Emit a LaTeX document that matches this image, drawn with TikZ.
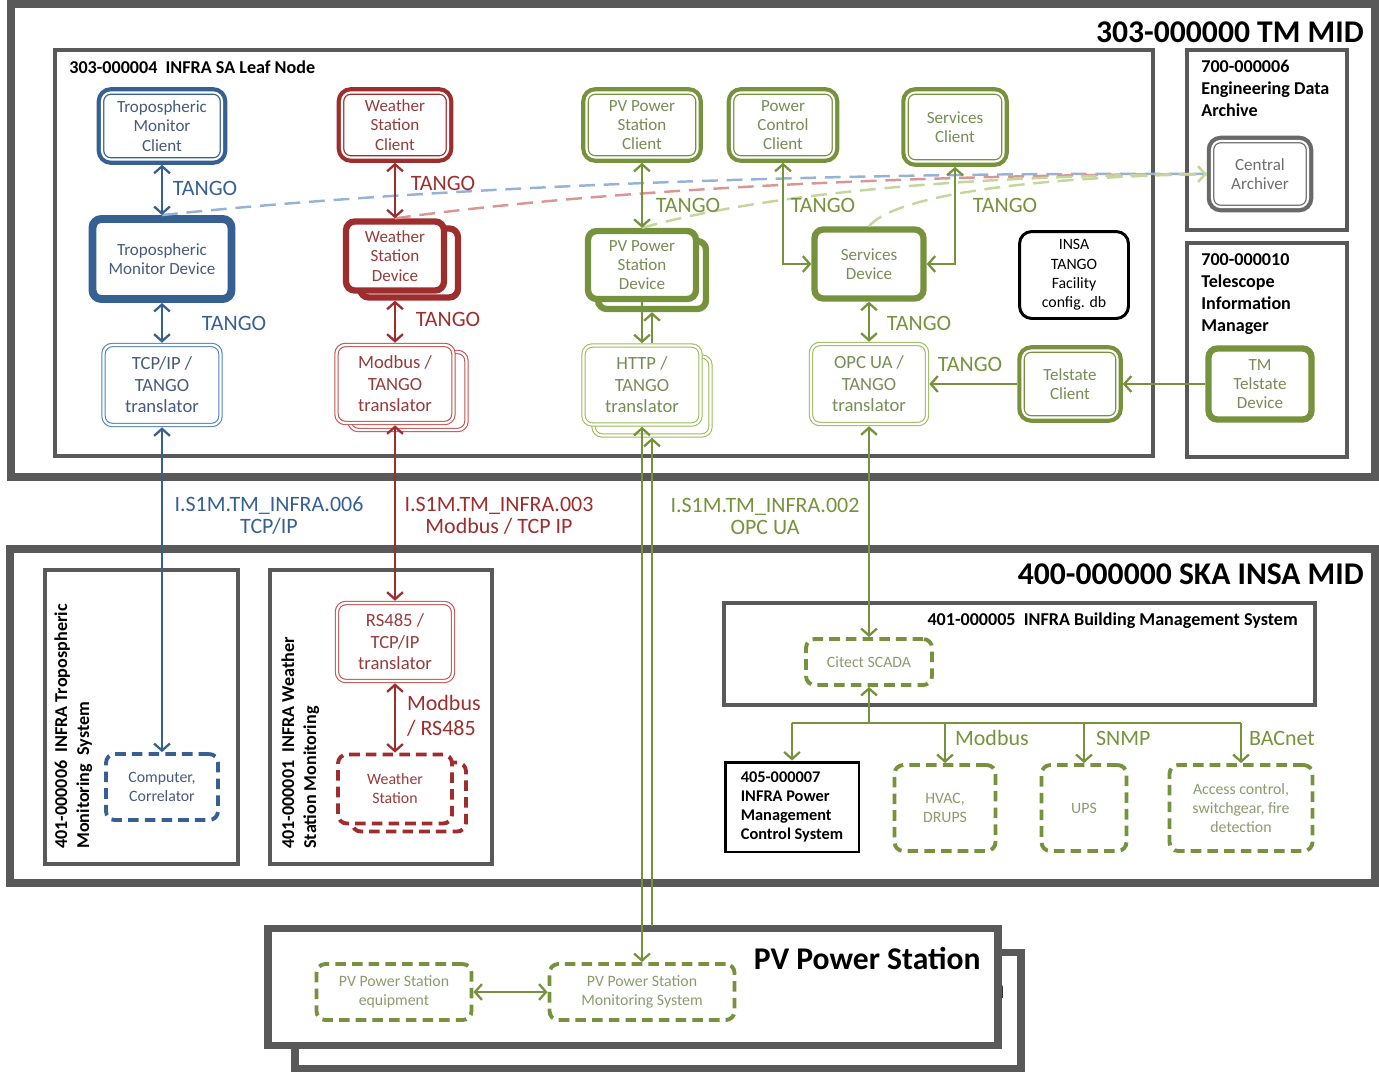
\documentclass[tikz,border=0pt]{standalone}
\usepackage{fontspec}
\setmainfont{Carlito}
\usetikzlibrary{arrows.meta,calc}

\definecolor{framegray}{RGB}{89,89,89}
\definecolor{archgray}{RGB}{105,105,105}
\definecolor{archtxt}{RGB}{110,110,110}
\definecolor{tblue}{RGB}{54,96,146}
\definecolor{tbluemid}{RGB}{79,129,189}
\definecolor{tbluelt}{RGB}{149,179,215}
\definecolor{tbluetxt}{RGB}{70,90,125}
\definecolor{wred}{RGB}{158,45,45}
\definecolor{wredmid}{RGB}{192,80,77}
\definecolor{wredlt}{RGB}{217,150,148}
\definecolor{wredtxt}{RGB}{150,60,60}
\definecolor{pgreen}{RGB}{118,146,60}
\definecolor{pgreenmid}{RGB}{155,187,89}
\definecolor{pgreenlt}{RGB}{195,214,155}
\definecolor{pgreentxt}{RGB}{120,140,85}
\definecolor{fieldtxt}{RGB}{140,155,110}

\begin{document}
\begin{tikzpicture}[x=0.02cm, y=-0.02cm, >={Straight Barb[length=4pt,width=9pt]},  % one unit = one pixel
    box/.style={rounded corners=5pt, align=center, inner sep=1pt, fill=white,
        font=\fontsize{9.7}{11}\selectfont},
    client/.style={box, draw=#1, double=white, line width=0.7pt, double distance=1.2pt,
        outer sep=3pt, preaction={draw=#1, line width=6pt}},
    device/.style={box, draw=#1, line width=3.6pt},
    transl/.style={box, draw=#1, double=white, line width=0.6pt, double distance=1.3pt,
        outer sep=1.3pt, font=\fontsize{10.6}{12.2}\selectfont},
    field/.style={box, draw=#1, line width=2.2pt, dash pattern=on 6pt off 3.5pt,
        font=\fontsize{9}{10.8}\selectfont},
    tango/.style={inner sep=1pt, font=\fontsize{12.5}{14.2}\selectfont},
    iface/.style={inner sep=1pt, align=center, font=\fontsize{12.5}{12.5}\selectfont},
    infra/.style={inner sep=0pt, align=left, font=\fontsize{10.3}{12.5}\selectfont\bfseries},
    title/.style={inner sep=0pt, anchor=east, font=\fontsize{18}{20}\selectfont\bfseries},
    link/.style={line width=1.3pt},
    archive/.style={line width=1.4pt, dash pattern=on 9pt off 5pt},
    shelf/.style={draw=framegray, line width=1.8pt},
    ]
    \useasboundingbox (0,0) rectangle (1379,1072);

    % 303-000000 TM MID
    \draw[framegray, line width=4.5pt] (11,4) rectangle (1375,477);
    \node[title] (tmmid) at (1364,32) {303-000000 TM MID};
    \draw[shelf] (55,50) rectangle (1153,456);
    \node[infra, anchor=west] (leaf) at (69,67) {303-000004\ \ INFRA SA Leaf Node};
    \draw[shelf] (1187,50) rectangle (1347,230);
    \node[infra, anchor=north west] (eda) at (1201,60) {700-000006\\Engineering Data\\Archive};
    \draw[shelf] (1187,243) rectangle (1347,457);
    \node[infra, anchor=north west] (tim) at (1201,253) {700-000010\\Telescope\\Information\\Manager};

    % 400-000000 SKA INSA MID
    \draw[framegray, line width=4.5pt] (10,549) rectangle (1375,883);
    \node[title] (insamid) at (1364,574) {400-000000 SKA INSA MID};
    \draw[shelf] (45,570) rectangle (238,864);
    \node[infra, rotate=90, anchor=north west] (trsys) at (54,849) {401-000006\ \ INFRA Tropospheric\\Monitoring\ \ System};
    \draw[shelf] (270,570) rectangle (492,864);
    \node[infra, rotate=90, anchor=north west] (wssys) at (281,849) {401-000001\ \ INFRA Weather\\Station Monitoring};
    \draw[shelf] (724,603) rectangle (1315,705);
    \node[infra, anchor=east] (bms) at (1298,621) {401-000005\ \ INFRA Building Management System};

    % PV Power Station (two stacked frames)
    \draw[framegray, line width=4pt, fill=white] (295,952) rectangle (1021,1068);
    \node[title] (pvback) at (1005,987) {PV Power Station};
    \draw[framegray, line width=4pt, fill=white] (268,928) rectangle (998,1045);
    \node[title] (pvtitle) at (981,958) {PV Power Station};
    \coordinate (pvtop) at (652,926);

    % tropospheric monitor
    \node[client=tblue, text=tbluetxt, minimum width=2.40cm, minimum height=1.34cm] (tmc) at (162,126) {Tropospheric\\Monitor\\Client};
    \node[device=tblue, line width=4.5pt, text=tbluetxt, minimum width=2.78cm, minimum height=1.60cm] (tmd) at (162,259) {Tropospheric\\Monitor Device};
    \node[transl=tbluemid, text=tbluetxt, minimum width=2.34cm, minimum height=1.60cm] (tcp) at (162,385) {TCP/IP /\\TANGO\\translator};
    \node[field=tblue, text=tbluetxt, minimum width=2.24cm, minimum height=1.32cm] (comp) at (162,787) {Computer,\\Correlator};

    % weather station
    \node[client=wred, text=wredtxt, minimum width=2.12cm, minimum height=1.30cm] (wsc) at (395,125) {Weather\\Station\\Client};
    \node[device=wred, minimum width=1.96cm, minimum height=1.38cm] (wsdb) at (409,263) {};
    \node[device=wred, text=wredtxt, minimum width=1.96cm, minimum height=1.38cm] (wsd) at (395,256) {Weather\\Station\\Device};
    \node[transl=wredmid, minimum width=2.34cm, minimum height=1.56cm] (mbtb) at (408,391) {};
    \node[transl=wredmid, text=wredtxt, minimum width=2.34cm, minimum height=1.56cm] (mbt) at (395,384) {Modbus /\\TANGO\\translator};
    \node[transl=wredmid, text=wredtxt, minimum width=2.32cm, minimum height=1.56cm] (rs) at (395,642) {RS485 /\\TCP/IP\\translator};
    \node[field=wred, minimum width=2.28cm, minimum height=1.38cm] (wsb) at (409,797) {};
    \node[field=wred, text=wredtxt, minimum width=2.28cm, minimum height=1.38cm] (ws) at (395,789) {Weather\\Station};

    % PV power station
    \node[client=pgreen, text=pgreentxt, minimum width=2.22cm, minimum height=1.30cm] (pvc) at (642,125) {PV Power\\Station\\Client};
    \node[device=pgreen, minimum width=2.16cm, minimum height=1.36cm] (pvdb) at (652,275) {};
    \node[device=pgreen, text=pgreentxt, minimum width=2.16cm, minimum height=1.36cm] (pvd) at (642,265) {PV Power\\Station\\Device};
    \node[transl=pgreenmid, minimum width=2.34cm, minimum height=1.58cm] (httpb) at (652,396) {};
    \node[transl=pgreenmid, text=pgreentxt, minimum width=2.34cm, minimum height=1.58cm] (http) at (642,385) {HTTP /\\TANGO\\translator};
    \node[field=pgreen, text=fieldtxt, minimum width=3.10cm, minimum height=1.12cm] (pvme) at (394,992) {PV Power Station\\equipment};
    \node[field=pgreen, text=fieldtxt, minimum width=3.70cm, minimum height=1.12cm] (pvms) at (642,992) {PV Power Station\\Monitoring System};

    % services, telstate, archive
    \node[client=pgreen, text=pgreentxt, minimum width=2.04cm, minimum height=1.30cm] (pcc) at (783,125) {Power\\Control\\Client};
    \node[client=pgreen, text=pgreentxt, minimum width=1.94cm, minimum height=1.38cm] (sc) at (955,127) {Services\\Client};
    \node[device=pgreen, text=pgreentxt, minimum width=2.18cm, minimum height=1.38cm] (sd) at (869,264) {Services\\Device};
    \node[transl=pgreenmid, text=pgreentxt, minimum width=2.32cm, minimum height=1.60cm] (opc) at (869,384) {OPC UA /\\TANGO\\translator};
    \node[box, draw=black, line width=1.7pt, rounded corners=7pt, minimum width=2.18cm, minimum height=1.74cm,
        font=\fontsize{9}{11}\selectfont] (insa) at (1074,275) {INSA\\TANGO\\Facility\\config. db};
    \node[client=pgreen, text=pgreentxt, minimum width=1.90cm, minimum height=1.34cm] (tc) at (1070,384) {Telstate\\Client};
    \node[client=archgray, text=archtxt, minimum width=1.92cm, minimum height=1.32cm] (ca) at (1260,174) {Central\\Archiver};
    \node[device=pgreen, text=pgreentxt, minimum width=2.06cm, minimum height=1.42cm] (tmtd) at (1260,384) {TM\\Telstate\\Device};

    % building management
    \node[field=pgreen, text=fieldtxt, minimum width=2.52cm, minimum height=0.92cm] (scada) at (869,662) {Citect SCADA};
    \node[draw=black, line width=1.7pt, fill=white, align=left, minimum width=2.68cm, minimum height=1.80cm,
        font=\fontsize{9.3}{10.8}\selectfont\bfseries] (pm) at (792,807) {405-000007\\INFRA Power\\Management\\Control System};
    \node[field=pgreen, text=fieldtxt, minimum width=2.02cm, minimum height=1.72cm] (hvac) at (945,808) {HVAC,\\DRUPS};
    \node[field=pgreen, text=fieldtxt, minimum width=1.70cm, minimum height=1.72cm] (ups) at (1084,808) {UPS};
    \node[field=pgreen, text=fieldtxt, minimum width=2.86cm, minimum height=1.72cm] (acc) at (1241,808) {Access control,\\switchgear, fire\\detection};

    % archiving (dashed)
    \draw[archive, tbluelt] (tmd.north) .. controls (450,185) and (850,172) .. (ca.west);
    \draw[archive, wredlt] (wsd.north) .. controls (600,190) and (900,175) .. (ca.west);
    \draw[archive, pgreenlt] (sd.north) .. controls (890,200) and (1000,178) .. (ca.west);
    \draw[archive, pgreenlt, ->] (pvd.north) .. controls (760,195) and (950,176) .. (ca.west);

    % connectors
    \draw[link, tblue, <->] (tmc) -- (tmd);
    \draw[link, tblue, <->] (tmd) -- (tcp);
    \draw[link, tblue, <->] (tcp) -- (comp);
    \draw[link, wred, <->] (wsc) -- (wsd);
    \draw[link, wred, <->] (wsd.south |- wsdb.south) -- (mbt.north);
    \draw[link, wred, <->] (mbt) -- (rs);
    \draw[link, wred, <->] (rs) -- (ws);
    \draw[link, pgreen, <->] (pvc) -- (pvd);
    \draw[link, pgreen, ->] (pvd) -- (http);
    \draw[link, pgreen, <-] (pvdb.south) -- (pvdb.south |- http.north);
    \draw[link, pgreen, <->] (http) -- (pvms);
    \draw[link, pgreen, <-] (httpb.south) -- (pvtop);
    \draw[link, pgreen, <->] (pvme) -- (pvms);
    \draw[link, pgreen, <->] (pcc.south) |- (sd.west);
    \draw[link, pgreen, <->] (sc.south) |- (sd.east);
    \draw[link, pgreen, <->] (sd) -- (opc);
    \draw[link, pgreen, <->] (opc) -- (scada);
    \draw[link, pgreen, ->] (tc) -- (opc);
    \draw[link, pgreen, ->] (tmtd) -- (tc);
    \draw[link, pgreen, <-] (scada.south) -- ++(0,36) coordinate (bus);
    \draw[link, pgreen] (bus -| pm) -- (bus -| acc);
    \foreach \n in {pm, hvac, ups, acc}
        \draw[link, pgreen, ->] (bus -| \n) -- (\n.north);

    % labels
    \node[tango, text=tblue] (tg1) at (205,188) {TANGO};
    \node[tango, text=tblue] (tg2) at (234,323) {TANGO};
    \node[tango, text=wred] (tg3) at (443,183) {TANGO};
    \node[tango, text=wred] (tg4) at (448,319) {TANGO};
    \node[tango, text=pgreen] (tg5) at (688,205) {TANGO};
    \node[tango, text=pgreen] (tg6) at (823,205) {TANGO};
    \node[tango, text=pgreen] (tg7) at (1005,205) {TANGO};
    \node[tango, text=pgreen] (tg8) at (919,323) {TANGO};
    \node[tango, text=pgreen] (tg9) at (970,364) {TANGO};
    \node[tango, text=wred, align=left, anchor=west] (mbrs) at (405,716) {Modbus\\/ RS485};
    \node[tango, text=pgreen, anchor=west] (mbus) at (953,738) {Modbus};
    \node[tango, text=pgreen, anchor=west] (snmp) at (1094,738) {SNMP};
    \node[tango, text=pgreen, anchor=west] (bac) at (1247,738) {BACnet};
    \node[iface, text=tblue] (if006) at (269,516) {I.S1M.TM\_INFRA.006\\TCP/IP};
    \node[iface, text=wred] (if003) at (499,516) {I.S1M.TM\_INFRA.003\\Modbus / TCP IP};
    \node[iface, text=pgreen] (if002) at (765,516) {I.S1M.TM\_INFRA.002\\OPC UA};
\end{tikzpicture}
\end{document}
